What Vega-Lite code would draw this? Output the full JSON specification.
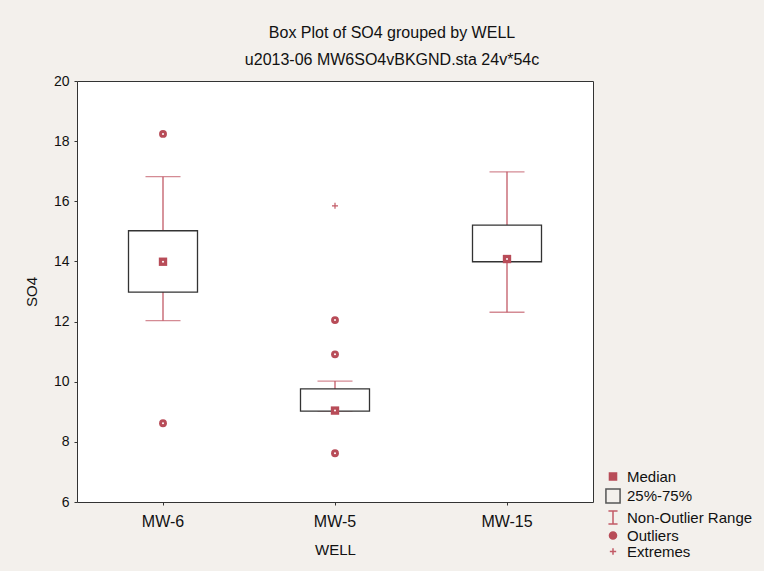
{
  "$schema": "https://vega.github.io/schema/vega-lite/v6.json",
  "width": 516,
  "height": 421,
  "autosize": {"type": "none"},
  "padding": {"left": 77, "top": 81, "right": 171, "bottom": 69},
  "background": "#f3f0ec",
  "title": {
    "text": "Box Plot of SO4 grouped by  WELL",
    "subtitle": "u2013-06 MW6SO4vBKGND.sta 24v*54c",
    "anchor": "middle",
    "dx": 57,
    "offset": 6,
    "font": "Liberation Sans",
    "fontSize": 16,
    "fontWeight": "normal",
    "color": "#111",
    "subtitleFont": "Liberation Sans",
    "subtitleFontSize": 16,
    "subtitleColor": "#111",
    "subtitlePadding": 11
  },
  "config": {
    "view": {"fill": "white", "stroke": "#333", "strokeWidth": 1},
    "axis": {
      "grid": false,
      "domain": false,
      "tickColor": "#333",
      "tickSize": 3,
      "labelFont": "Liberation Sans",
      "labelColor": "#111",
      "titleFont": "Liberation Sans",
      "titleColor": "#111",
      "titleFontWeight": "normal"
    },
    "legend": {
      "labelFont": "Liberation Sans",
      "labelFontSize": 15,
      "labelColor": "#111"
    }
  },
  "datasets": {
    "box": [
      {"well": "MW-6", "lo": 12.03, "q1": 12.98, "med": 13.99, "q3": 15.02, "hi": 16.82},
      {"well": "MW-5", "lo": 9.02, "q1": 9.02, "med": 9.04, "q3": 9.76, "hi": 10.02},
      {"well": "MW-15", "lo": 12.31, "q1": 13.99, "med": 14.08, "q3": 15.21, "hi": 16.98}
    ],
    "pts": [
      {"well": "MW-6", "value": 18.24, "kind": "Outliers"},
      {"well": "MW-6", "value": 8.62, "kind": "Outliers"},
      {"well": "MW-5", "value": 12.05, "kind": "Outliers"},
      {"well": "MW-5", "value": 10.91, "kind": "Outliers"},
      {"well": "MW-5", "value": 7.62, "kind": "Outliers"},
      {"well": "MW-5", "value": 15.85, "kind": "Extremes"}
    ],
    "leg": [
      {"well": "MW-6", "value": 0, "item": "Median"},
      {"well": "MW-6", "value": 0, "item": "25%-75%"},
      {"well": "MW-6", "value": 0, "item": "Non-Outlier Range"},
      {"well": "MW-6", "value": 0, "item": "Outliers"},
      {"well": "MW-6", "value": 0, "item": "Extremes"}
    ]
  },
  "encoding": {
    "x": {
      "field": "well",
      "type": "nominal",
      "sort": ["MW-6", "MW-5", "MW-15"],
      "scale": {"paddingInner": 0, "paddingOuter": 0},
      "axis": {"title": "WELL", "labelAngle": 0, "labelFontSize": 16, "labelPadding": 8, "titleFontSize": 15, "titlePadding": 13}
    }
  },
  "layer": [
    {
      "data": {"name": "box"},
      "mark": {"type": "rule", "color": "#c25a66", "strokeWidth": 1.3},
      "encoding": {
        "y": {"field": "lo", "type": "quantitative", "scale": {"domain": [6, 20], "nice": false, "zero": false},
          "axis": {"title": "SO4", "values": [6, 8, 10, 12, 14, 16, 18, 20], "labelFontSize": 14, "labelPadding": 5, "titleFontSize": 15, "titlePadding": 14}},
        "y2": {"field": "hi"}
      }
    },
    {
      "data": {"name": "box"},
      "mark": {"type": "tick", "color": "#c25a66", "size": 35, "thickness": 1.3},
      "encoding": {"y": {"field": "lo", "type": "quantitative"}}
    },
    {
      "data": {"name": "box"},
      "mark": {"type": "tick", "color": "#c25a66", "size": 35, "thickness": 1.3},
      "encoding": {"y": {"field": "hi", "type": "quantitative"}}
    },
    {
      "data": {"name": "box"},
      "mark": {"type": "bar", "size": 69, "fill": "white", "stroke": "#333333", "strokeWidth": 1.3},
      "encoding": {
        "y": {"field": "q1", "type": "quantitative"},
        "y2": {"field": "q3"}
      }
    },
    {
      "data": {"name": "box"},
      "mark": {"type": "point", "shape": "square", "filled": true, "size": 70, "color": "#b84c58", "opacity": 1},
      "encoding": {"y": {"field": "med", "type": "quantitative"}}
    },
    {
      "data": {"name": "box"},
      "mark": {"type": "point", "shape": "circle", "filled": true, "size": 4, "color": "white", "opacity": 1},
      "encoding": {"y": {"field": "med", "type": "quantitative"}}
    },
    {
      "data": {"name": "pts"},
      "transform": [{"filter": "datum.kind === 'Outliers'"}],
      "mark": {"type": "point", "shape": "circle", "filled": true, "size": 62, "color": "#b84c58", "opacity": 1},
      "encoding": {"y": {"field": "value", "type": "quantitative"}}
    },
    {
      "data": {"name": "pts"},
      "transform": [{"filter": "datum.kind === 'Outliers'"}],
      "mark": {"type": "point", "shape": "circle", "filled": true, "size": 4, "color": "white", "opacity": 1},
      "encoding": {"y": {"field": "value", "type": "quantitative"}}
    },
    {
      "data": {"name": "pts"},
      "transform": [{"filter": "datum.kind === 'Extremes'"}],
      "mark": {"type": "point", "shape": "M-1,0H1M0,-1V1", "filled": false, "size": 36, "color": "#c25a66", "strokeWidth": 1.2, "opacity": 1},
      "encoding": {"y": {"field": "value", "type": "quantitative"}}
    },
    {
      "data": {"name": "leg"},
      "mark": {"type": "point", "clip": true, "strokeWidth": 1.4, "opacity": 1},
      "encoding": {
        "y": {"field": "value", "type": "quantitative"},
        "fill": {"field": "item", "type": "ordinal",
          "scale": {"type": "ordinal", "domain": ["Median", "25%-75%", "Non-Outlier Range", "Outliers", "Extremes"], "range": ["#b84c58", "transparent", "transparent", "#b84c58", "transparent"]},
          "legend": {"title": null, "orient": "none", "legendX": 528, "legendY": 388, "padding": 0, "rowPadding": 0, "labelOffset": 6}},
        "stroke": {"field": "item", "type": "ordinal",
          "scale": {"type": "ordinal", "domain": ["Median", "25%-75%", "Non-Outlier Range", "Outliers", "Extremes"], "range": ["#b84c58", "#555555", "#c25a66", "#b84c58", "#c25a66"]},
          "legend": {"title": null, "orient": "none", "legendX": 528, "legendY": 388, "padding": 0, "rowPadding": 0, "labelOffset": 6}},
        "shape": {"field": "item", "type": "ordinal",
          "scale": {"type": "ordinal", "domain": ["Median", "25%-75%", "Non-Outlier Range", "Outliers", "Extremes"], "range": ["square", "square", "M-0.7,-1H0.7M0,-1V1M-0.7,1H0.7", "circle", "M-1,0H1M0,-1V1"]},
          "legend": {"title": null, "orient": "none", "legendX": 528, "legendY": 388, "padding": 0, "rowPadding": 0, "labelOffset": 6}},
        "size": {"field": "item", "type": "ordinal",
          "scale": {"type": "ordinal", "domain": ["Median", "25%-75%", "Non-Outlier Range", "Outliers", "Extremes"], "range": [50, 200, 170, 50, 40]},
          "legend": {"title": null, "orient": "none", "legendX": 528, "legendY": 388, "padding": 0, "rowPadding": 0, "labelOffset": 6}}
      }
    }
  ]
}
